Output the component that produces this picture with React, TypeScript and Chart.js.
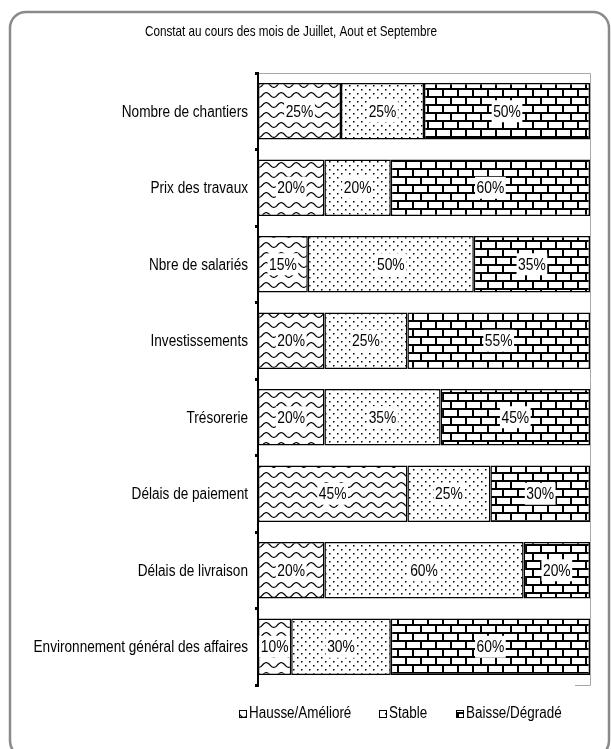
import React, { useEffect, useRef } from "react";
import { Chart, registerables } from "chart.js";

Chart.register(...registerables);

const categories = [
  "Nombre de chantiers",
  "Prix des travaux",
  "Nbre de salariés",
  "Investissements",
  "Trésorerie",
  "Délais de paiement",
  "Délais de livraison",
  "Environnement général des affaires",
];
const hausse = [25, 20, 15, 20, 20, 45, 20, 10];
const stable = [25, 20, 50, 25, 35, 25, 60, 30];
const baisse = [50, 60, 35, 55, 45, 30, 20, 60];
const seriesNames = ["Hausse/Amélioré", "Stable", "Baisse/Dégradé"];
const titleText = "Constat au cours des mois de Juillet, Aout et Septembre";

const FONT = '"Liberation Sans", Arial, sans-serif';

function drawText(
  ctx: CanvasRenderingContext2D,
  text: string,
  x: number,
  y: number,
  size: number,
  align: CanvasTextAlign,
  sx = 0.84
) {
  ctx.save();
  ctx.translate(x, y);
  ctx.scale(sx, 1);
  ctx.font = `${size}px ${FONT}`;
  ctx.textAlign = align;
  ctx.textBaseline = "middle";
  ctx.fillStyle = "#000";
  ctx.fillText(text, 0, 0);
  ctx.restore();
}

function textWidth(ctx: CanvasRenderingContext2D, text: string, size: number, sx = 0.84) {
  ctx.save();
  ctx.font = `${size}px ${FONT}`;
  const w = ctx.measureText(text).width * sx;
  ctx.restore();
  return w;
}

function makeTile(w: number, h: number, draw: (c: CanvasRenderingContext2D) => void) {
  const cv = document.createElement("canvas");
  cv.width = w;
  cv.height = h;
  const c = cv.getContext("2d")!;
  c.fillStyle = "#fff";
  c.fillRect(0, 0, w, h);
  draw(c);
  return cv;
}

function wavePattern(ctx: CanvasRenderingContext2D) {
  const tile = makeTile(15, 10, (c) => {
    c.strokeStyle = "#000";
    c.lineWidth = 1.2;
    c.beginPath();
    for (let x = -1; x <= 16; x += 0.5) {
      const y = 5 + 2.4 * Math.sin((2 * Math.PI * x) / 15);
      if (x === -1) c.moveTo(x, y);
      else c.lineTo(x, y);
    }
    c.stroke();
  });
  return ctx.createPattern(tile, "repeat")!;
}

function dotPattern(ctx: CanvasRenderingContext2D) {
  const tile = makeTile(8, 8, (c) => {
    c.fillStyle = "#000";
    c.fillRect(1, 1, 1.5, 1.5);
    c.fillRect(5, 5, 1.5, 1.5);
  });
  return ctx.createPattern(tile, "repeat")!;
}

function brickPattern(ctx: CanvasRenderingContext2D) {
  const tile = makeTile(15, 16, (c) => {
    c.fillStyle = "#000";
    c.fillRect(0, 0, 15, 2);
    c.fillRect(0, 8, 15, 2);
    c.fillRect(0, 2, 2, 6);
    c.fillRect(7, 10, 2, 6);
  });
  return ctx.createPattern(tile, "repeat")!;
}

const extrasPlugin = {
  id: "extras",
  beforeDraw(chart: any) {
    const ctx = chart.ctx as CanvasRenderingContext2D;
    const a = chart.chartArea;
    ctx.save();
    ctx.strokeStyle = "#8a8a8a";
    ctx.lineWidth = 2.5;
    ctx.beginPath();
    (ctx as any).roundRect(10, 12, 599, 745, 16);
    ctx.stroke();
    ctx.strokeStyle = "#a8a8a8";
    ctx.lineWidth = 1;
    ctx.beginPath();
    ctx.moveTo(a.left, a.top + 0.5);
    ctx.lineTo(a.right + 0.5, a.top + 0.5);
    ctx.lineTo(a.right + 0.5, a.bottom + 0.5);
    ctx.lineTo(a.right - 15, a.bottom + 0.5);
    ctx.stroke();
    ctx.restore();
    drawText(ctx, titleText, 291, 32, 15, "center", 0.78);
  },
  afterDatasetsDraw(chart: any) {
    const ctx = chart.ctx as CanvasRenderingContext2D;
    chart.data.datasets.forEach((ds: any, di: number) => {
      const meta = chart.getDatasetMeta(di);
      meta.data.forEach((el: any, i: number) => {
        const v = ds.data[i];
        if (!v) return;
        const txt = `${v}%`;
        const cx = (el.x + el.base) / 2;
        const cy = el.y;
        const w = textWidth(ctx, txt, 16.5) + 3;
        ctx.save();
        ctx.fillStyle = "#fff";
        ctx.fillRect(cx - w / 2, cy - 11, w, 22);
        ctx.restore();
        drawText(ctx, txt, cx, cy + 1, 16.5, "center");
      });
    });
  },
  afterDraw(chart: any) {
    const ctx = chart.ctx as CanvasRenderingContext2D;
    const ys = chart.scales.y;
    chart.data.labels.forEach((lab: string, i: number) => {
      drawText(ctx, lab, 248, ys.getPixelForValue(i) + 1, 16, "right", 0.85);
    });
    const xs = [239, 379, 456];
    const y = 714;
    chart.data.datasets.forEach((ds: any, di: number) => {
      const x = xs[di];
      ctx.save();
      ctx.fillStyle = ds.backgroundColor;
      ctx.fillRect(x, y - 4, 8, 8);
      ctx.strokeStyle = "#000";
      ctx.lineWidth = 1;
      ctx.strokeRect(x + 0.5, y - 3.5, 7, 7);
      ctx.restore();
      drawText(ctx, ds.label, x + 10, y, 16, "left", 0.84);
    });
  },
};

export default function App() {
  const ref = useRef<HTMLCanvasElement>(null);
  useEffect(() => {
    const canvas = ref.current!;
    const ctx = canvas.getContext("2d")!;
    const fills = [wavePattern(ctx), dotPattern(ctx), brickPattern(ctx)];
    const values = [hausse, stable, baisse];
    const chart = new Chart(canvas, {
      type: "bar",
      data: {
        labels: categories,
        datasets: values.map((d, i) => ({
          label: seriesNames[i],
          data: d,
          backgroundColor: fills[i] as any,
          borderColor: "#000",
          borderWidth: 1.5,
          borderSkipped: false,
          categoryPercentage: 1,
          barPercentage: 0.74,
        })),
      },
      options: {
        indexAxis: "y",
        responsive: false,
        animation: false,
        devicePixelRatio: 1,
        layout: { padding: { top: 73, right: 21, bottom: 64, left: 0 } },
        plugins: {
          legend: { display: false },
          title: { display: false },
          tooltip: { enabled: false },
        },
        scales: {
          x: { stacked: true, min: 0, max: 100, display: false },
          y: {
            stacked: true,
            afterFit: (scale: any) => {
              scale.width = 258;
            },
            grid: {
              drawOnChartArea: false,
              drawTicks: true,
              tickLength: 3,
              color: "#000",
              lineWidth: 3,
              offset: true,
            },
            border: { color: "#000", width: 2 },
            ticks: { display: false },
          },
        },
      },
      plugins: [extrasPlugin],
    } as any);
    return () => chart.destroy();
  }, []);
  return (
    <div style={{ position: "absolute", left: 0, top: 0, width: 611, height: 749, background: "#fff" }}>
      <canvas ref={ref} width={611} height={749} style={{ width: 611, height: 749, display: "block" }} />
    </div>
  );
}
